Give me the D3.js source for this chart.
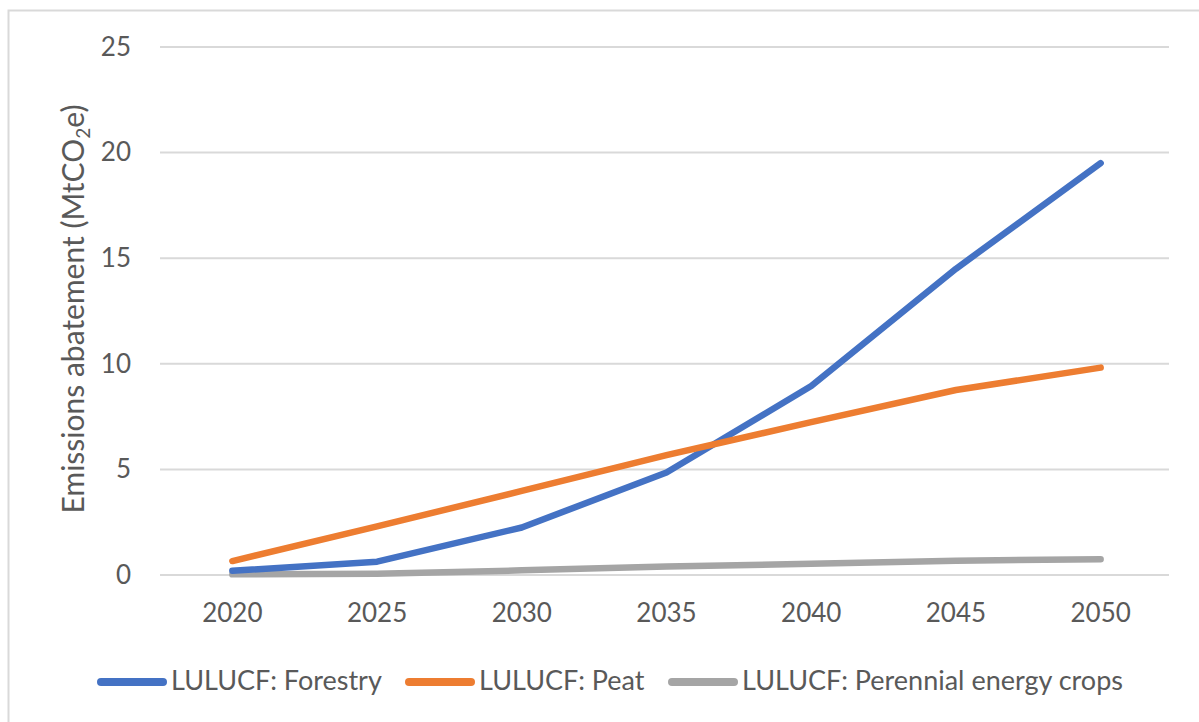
<!DOCTYPE html>
<html>
<head>
<meta charset="utf-8">
<script src="https://cdn.jsdelivr.net/npm/d3@7"></script>
<style>
  body { margin: 0; background: #fff; }
  svg text { font-family: Lato, "Open Sans", sans-serif; fill: #595959; }
</style>
</head>
<body>
<div id="chart"></div>
<script>
// data
var years = [2020, 2025, 2030, 2035, 2040, 2045, 2050];
var forestry = [0.2, 0.63, 2.25, 4.85, 8.95, 14.5, 19.5];
var peat = [0.66, 2.3, 3.98, 5.68, 7.24, 8.76, 9.82];
var perennial = [0.03, 0.06, 0.22, 0.4, 0.53, 0.68, 0.75];
var yTicks = [0, 5, 10, 15, 20, 25];
var seriesNames = ["LULUCF: Forestry", "LULUCF: Peat", "LULUCF: Perennial energy crops"];
var seriesColors = ["#4472C4", "#ED7D31", "#A5A5A5"];

var width = 1199, height = 722;
var margin = { top: 47, right: 30, bottom: 147, left: 160 };

var svg = d3.select("#chart").append("svg")
    .attr("width", width)
    .attr("height", height);

// outer frame
svg.append("rect")
    .attr("x", 8.5).attr("y", 10.5)
    .attr("width", 1200).attr("height", 720)
    .attr("fill", "none")
    .attr("stroke", "#D9D9D9")
    .attr("stroke-width", 2);

var x = d3.scaleBand()
    .domain(years)
    .range([margin.left, 1173]);

var y = d3.scaleLinear()
    .domain([0, 25])
    .range([height - margin.bottom, margin.top]);

// gridlines
svg.append("g")
    .selectAll("line")
    .data(yTicks)
    .join("line")
    .attr("x1", margin.left).attr("x2", 1169)
    .attr("y1", function(d){ return y(d); })
    .attr("y2", function(d){ return y(d); })
    .attr("stroke", "#D9D9D9")
    .attr("stroke-width", 2);

// y axis labels
var yAxis = d3.axisLeft(y).tickValues(yTicks).tickSize(0).tickPadding(0);
var gy = svg.append("g")
    .attr("transform", "translate(" + 131 + ",0)")
    .call(yAxis);
gy.select(".domain").remove();
gy.selectAll("text")
    .attr("font-size", 26)
    .attr("font-family", null)
    .attr("fill", "#595959");

// x axis labels
var xAxis = d3.axisBottom(x).tickSize(0).tickPadding(0);
var gx = svg.append("g")
    .attr("transform", "translate(0," + 604 + ")")
    .call(xAxis);
gx.select(".domain").remove();
gx.selectAll("text")
    .attr("font-size", 26)
    .attr("font-family", null)
    .attr("fill", "#595959");

// y title
var title = svg.append("text")
    .attr("transform", "translate(84,309) rotate(-90)")
    .attr("text-anchor", "middle")
    .attr("font-size", 30);
title.append("tspan").text("Emissions abatement (MtCO");
title.append("tspan").text("2").attr("font-size", 19).attr("dy", 6);
title.append("tspan").text("e)").attr("dy", -6);

// lines
var line = d3.line()
    .x(function(d, i){ return x(years[i]) + x.bandwidth() / 2; })
    .y(function(d){ return y(d); });

var allSeries = [forestry, peat, perennial];
// draw order: gray underneath, then blue, orange on top
[2, 0, 1].forEach(function(k){
    svg.append("path")
        .datum(allSeries[k])
        .attr("d", line)
        .attr("fill", "none")
        .attr("stroke", seriesColors[k])
        .attr("stroke-width", 6.5)
        .attr("stroke-linecap", "round")
        .attr("stroke-linejoin", "round");
});

// legend
var legendX = [97, 405, 668];
var legend = svg.append("g");
seriesNames.forEach(function(name, i){
    legend.append("line")
        .attr("x1", legendX[i] + 4).attr("x2", legendX[i] + 66)
        .attr("y1", 682).attr("y2", 682)
        .attr("stroke", seriesColors[i])
        .attr("stroke-width", 8)
        .attr("stroke-linecap", "round");
    legend.append("text")
        .attr("x", legendX[i] + 74)
        .attr("y", 690)
        .attr("font-size", 27)
        .text(name);
});
</script>
</body>
</html>
